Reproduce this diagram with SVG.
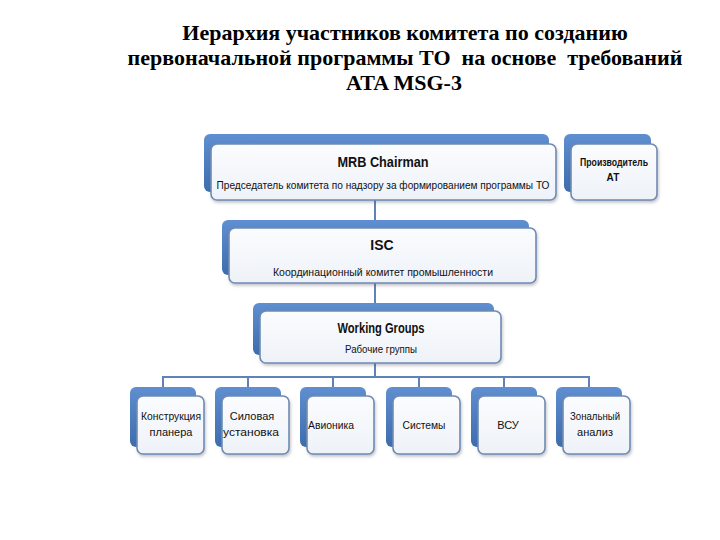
<svg xmlns="http://www.w3.org/2000/svg" width="720" height="540" viewBox="0 0 720 540">
<defs>
<linearGradient id="gBack" x1="0" y1="0" x2="0" y2="1">
<stop offset="0" stop-color="#5f8fd0"/>
<stop offset="1" stop-color="#3e6dae"/>
</linearGradient>
<linearGradient id="gFront" x1="0" y1="0" x2="0" y2="1">
<stop offset="0" stop-color="#fbfcfe"/>
<stop offset="1" stop-color="#eef2f8"/>
</linearGradient>
<filter id="sh" x="-10%" y="-10%" width="125%" height="140%">
<feDropShadow dx="1" dy="2" stdDeviation="1.5" flood-color="#556" flood-opacity="0.35"/>
</filter>
</defs>
<style>
.back{fill:url(#gBack);}
.front{fill:url(#gFront);stroke:#6f8bb3;stroke-width:1.6;filter:url(#sh);}
.conn{fill:none;stroke:#5f82b8;stroke-width:2;}
.t{font-family:"Liberation Sans",Arial,sans-serif;fill:#111111;text-anchor:middle;}
.h{font-size:14px;font-weight:bold;}
.s{font-size:11px;}
.b{font-size:11px;}
.title{font-family:"Liberation Serif","Times New Roman",serif;font-weight:bold;font-size:22px;fill:#000;text-anchor:middle;}
</style>
<rect width="720" height="540" fill="#ffffff"/>
<g id="title">
<text class="title" x="405" y="40">Иерархия участников комитета по созданию</text>
<text class="title" x="405" y="65" xml:space="preserve">первоначальной программы ТО  на основе  требований</text>
<text class="title" x="404" y="90">ATA MSG-3</text>
</g>
<g id="connectors">
<path class="conn" d="M375 200 V221"/>
<path class="conn" d="M375 283 V304"/>
<path class="conn" d="M375 363 V377"/>
<path class="conn" d="M163 387 V377 H589 V387"/>
<path class="conn" d="M248 377 V387"/>
<path class="conn" d="M333 377 V387"/>
<path class="conn" d="M419 377 V387"/>
<path class="conn" d="M504 377 V387"/>
</g>
<g id="mrb">
<rect class="back" x="204" y="134" width="345" height="58" rx="6"/>
<rect class="front" x="211" y="144" width="345" height="56" rx="6"/>
<text class="t h" x="383" y="167" textLength="91" lengthAdjust="spacingAndGlyphs">MRB Chairman</text>
<text class="t s" x="383" y="189" textLength="333" lengthAdjust="spacingAndGlyphs">Председатель комитета по надзору за формированием программы ТО</text>
</g>
<g id="manufacturer">
<rect class="back" x="564" y="134" width="87" height="58" rx="6"/>
<rect class="front" x="571" y="144" width="86" height="56" rx="6"/>
<text class="t" x="614" y="166" font-size="10" font-weight="bold" textLength="68" lengthAdjust="spacingAndGlyphs">Производитель</text>
<text class="t" x="613" y="181" font-size="10" font-weight="bold">АТ</text>
</g>
<g id="isc">
<rect class="back" x="222" y="220" width="307" height="55" rx="6"/>
<rect class="front" x="229" y="228" width="307" height="55" rx="6"/>
<text class="t h" x="382" y="250">ISC</text>
<text class="t s" x="383" y="276" textLength="220" lengthAdjust="spacingAndGlyphs">Координационный комитет промышленности</text>
</g>
<g id="wg">
<rect class="back" x="253" y="303" width="241" height="52" rx="6"/>
<rect class="front" x="260" y="311" width="241" height="52" rx="6"/>
<text class="t h" x="381" y="333" textLength="87" lengthAdjust="spacingAndGlyphs">Working Groups</text>
<text class="t s" x="381" y="353" textLength="72" lengthAdjust="spacingAndGlyphs">Рабочие группы</text>
</g>
<g id="n1">
<rect class="back" x="130" y="387" width="66" height="60" rx="6"/>
<rect class="front" x="137" y="396" width="67" height="58" rx="6"/>
<text class="t b" x="171" y="420" textLength="60" lengthAdjust="spacingAndGlyphs">Конструкция</text>
<text class="t b" x="171" y="436">планера</text>
</g>
<g id="n2">
<rect class="back" x="215" y="387" width="66" height="60" rx="6"/>
<rect class="front" x="222" y="396" width="67" height="58" rx="6"/>
<text class="t b" x="252" y="420">Силовая</text>
<text class="t b" x="251" y="436" textLength="56" lengthAdjust="spacingAndGlyphs">установка</text>
</g>
<g id="n3">
<rect class="back" x="300" y="387" width="66" height="60" rx="6"/>
<rect class="front" x="307" y="396" width="67" height="58" rx="6"/>
<text class="t b" x="331" y="429" textLength="46" lengthAdjust="spacingAndGlyphs">Авионика</text>
</g>
<g id="n4">
<rect class="back" x="386" y="387" width="66" height="60" rx="6"/>
<rect class="front" x="393" y="396" width="67" height="58" rx="6"/>
<text class="t b" x="424" y="429" textLength="43" lengthAdjust="spacingAndGlyphs">Системы</text>
</g>
<g id="n5">
<rect class="back" x="471" y="387" width="66" height="60" rx="6"/>
<rect class="front" x="478" y="396" width="67" height="58" rx="6"/>
<text class="t b" x="508" y="429">ВСУ</text>
</g>
<g id="n6">
<rect class="back" x="556" y="387" width="66" height="60" rx="6"/>
<rect class="front" x="563" y="396" width="67" height="58" rx="6"/>
<text class="t b" x="595" y="420" textLength="50" lengthAdjust="spacingAndGlyphs">Зональный</text>
<text class="t b" x="595" y="436">анализ</text>
</g>
</svg>
